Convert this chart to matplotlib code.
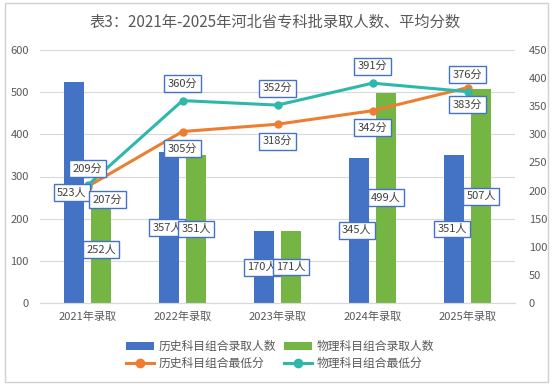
import numpy as np
import matplotlib.pyplot as plt
from matplotlib.patches import Rectangle

plt.rcParams['font.family'] = ['Noto Sans CJK SC', 'DejaVu Sans']

years = ['2021年录取', '2022年录取', '2023年录取', '2024年录取', '2025年录取']
hist_count = [523, 357, 170, 345, 351]
phys_count = [252, 351, 171, 499, 507]
hist_min = [207, 305, 318, 342, 383]
phys_min = [209, 360, 352, 391, 376]

blue = '#4472C4'
green = '#74B544'
orange = '#ED7D31'
teal = '#2EB8AA'
grid_c = '#D9D9D9'
txt_c = '#595959'

fig = plt.figure(figsize=(5.54, 3.88), dpi=100)
fig.patches.append(Rectangle((5/554, 6/388), 543/554, 379/388, transform=fig.transFigure,
                             fill=False, edgecolor='#D0D0D0', lw=1))

ax1 = fig.add_axes([40/554, 1-303/388, 475/554, 253/388])
ax2 = ax1.twinx()

x = np.arange(len(years))
w = 0.211
off = 0.1425
b1 = ax1.bar(x - off, hist_count, w, color=blue, label='历史科目组合录取人数', zorder=2)
b2 = ax1.bar(x + off, phys_count, w, color=green, label='物理科目组合录取人数', zorder=2)

l1, = ax2.plot(x, hist_min, color=orange, lw=2.2, marker='o', ms=5, label='历史科目组合最低分')
l2, = ax2.plot(x, phys_min, color=teal, lw=2.2, marker='o', ms=5, label='物理科目组合最低分')

ax1.set_xlim(-0.5, len(years) - 0.5)
ax1.set_ylim(0, 600)
ax2.set_ylim(0, 450)
ax1.set_yticks(range(0, 601, 100))
ax2.set_yticks(range(0, 451, 50))
ax1.set_xticks(x)
ax1.set_xticklabels(years)
ax1.grid(axis='y', color=grid_c, lw=0.8, zorder=0)
ax1.set_axisbelow(True)

for ax in (ax1, ax2):
    for s in ('top', 'left', 'right'):
        ax.spines[s].set_visible(False)
    ax.spines['bottom'].set_color(grid_c)
    ax.tick_params(axis='both', length=0, colors=txt_c, labelsize=8)
ax1.tick_params(axis='y', pad=8)
ax2.tick_params(axis='y', pad=10)
ax1.tick_params(axis='x', pad=6)

box = dict(boxstyle='square,pad=0.3', fc='white', ec=blue, lw=1)

def label(val, xv, yv, trans, dx, dy, unit):
    ax2.annotate(f'{val}{unit}', xy=(xv, yv), xycoords=trans, xytext=(dx, dy),
                 textcoords='offset pixels', ha='center', va='center',
                 fontsize=8, color='#404040', bbox=box, zorder=5)

for i in range(len(years)):
    label(hist_count[i], x[i] - off, hist_count[i] / 2, ax1.transData, -2, 0, '人')
    label(phys_count[i], x[i] + off, phys_count[i] / 2, ax1.transData, 0, 0, '人')
    label(phys_min[i], x[i], phys_min[i], ax2.transData, 0, 17, '分')
    dx = 20 if i == 0 else 0
    dy = -13 if i == 0 else -17
    label(hist_min[i], x[i], hist_min[i], ax2.transData, dx, dy, '分')

fig.text(275/554, 1-22/388, '表3：2021年-2025年河北省专科批录取人数、平均分数',
         ha='center', va='center', fontsize=11, color=txt_c)

fig.legend(handles=[b1, l1, b2, l2], ncol=2, loc='center',
           bbox_to_anchor=(280/554, 1-355/388), frameon=False, fontsize=8.5,
           labelcolor=txt_c, handlelength=2.4, handletextpad=0.4,
           columnspacing=0.6, labelspacing=0.3, borderpad=0, markerscale=1.2)

fig.savefig('out.png', dpi=100)
